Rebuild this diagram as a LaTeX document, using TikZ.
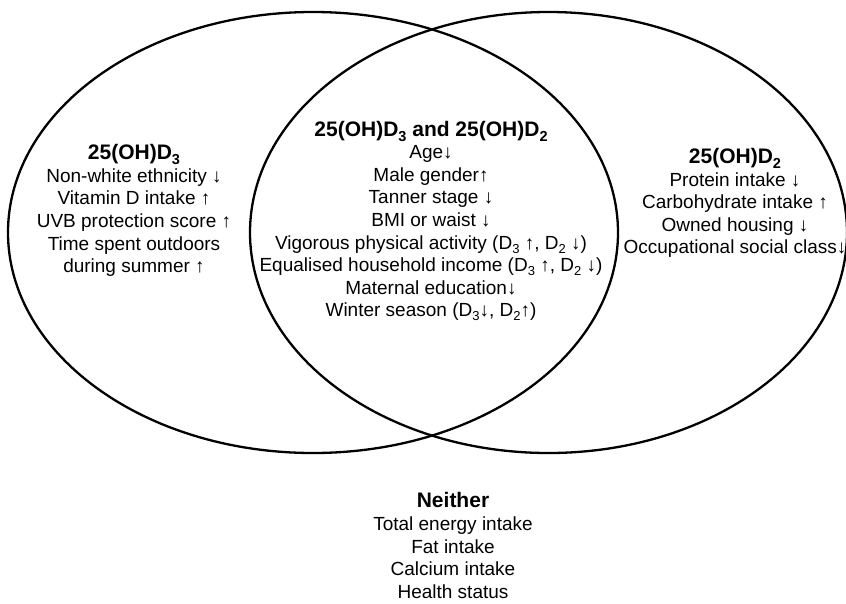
\documentclass[tikz,border=0pt]{standalone}
\usepackage{fontspec}
\setmainfont{Liberation Sans}
\newcommand{\dsub}[1]{\raisebox{-0.4ex}{\fontsize{13}{13}\selectfont #1}}
\newcommand{\tsub}[1]{\raisebox{-0.45ex}{\fontsize{14.5}{14.5}\selectfont #1}}
\begin{document}
\begin{tikzpicture}[x=1pt,y=-1pt,
  setline/.style={line width=2.3pt},
  listtext/.style={align=center, inner sep=0pt, font=\fontsize{19}{22.6}\selectfont}]
\useasboundingbox (0,0) rectangle (846,603);
\draw[setline] (313,232.5) ellipse [x radius=305, y radius=220.5];
\draw[setline] (548.5,232.5) ellipse [x radius=298.5, y radius=220.5];
\node[listtext] (dthree) at (134,210.5) {{\fontsize{21}{22.6}\selectfont\bfseries 25(OH)D\tsub{3}}\\
Non-white ethnicity ↓\\
Vitamin D intake ↑\\
UVB protection score ↑\\
Time spent outdoors\\
during summer ↑};
\node[listtext] (both) at (431,221) {{\fontsize{21}{22.6}\selectfont\bfseries 25(OH)D\tsub{3} and 25(OH)D\tsub{2}}\\
Age↓\\
Male gender↑\\
Tanner stage ↓\\
BMI or waist ↓\\
Vigorous physical activity (D\dsub{3} ↑, D\dsub{2} ↓)\\
Equalised household income (D\dsub{3} ↑, D\dsub{2} ↓)\\
Maternal education↓\\
Winter season (D\dsub{3}↓, D\dsub{2}↑)};
\node[listtext] (dtwo) at (735,203) {{\fontsize{21}{22.6}\selectfont\bfseries 25(OH)D\tsub{2}}\\
Protein intake ↓\\
Carbohydrate intake ↑\\
Owned housing ↓\\
Occupational social class↓};
\node[listtext] (neither) at (453,545.5) {{\fontsize{21}{22.6}\selectfont\bfseries Neither}\\
Total energy intake\\
Fat intake\\
Calcium intake\\
Health status};
\end{tikzpicture}
\end{document}
